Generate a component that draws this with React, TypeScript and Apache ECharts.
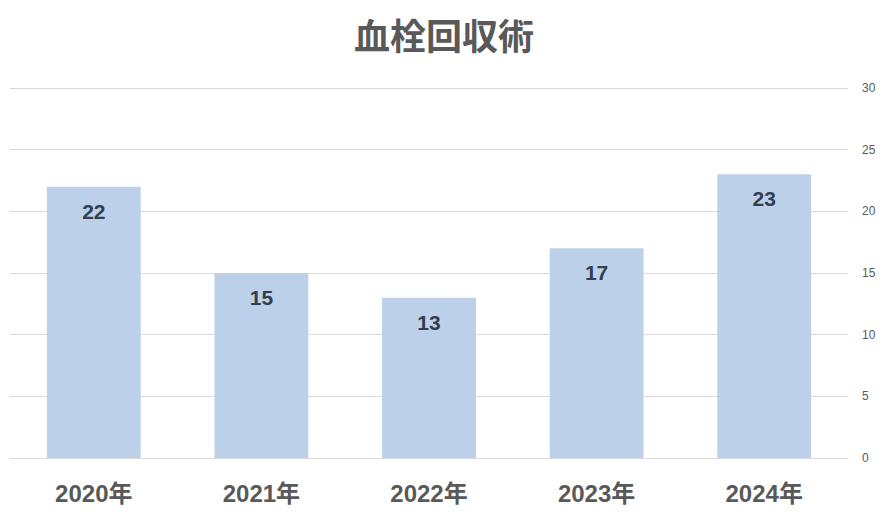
import React, { useEffect, useRef } from "react";
import * as echarts from "echarts";

const title = "血栓回収術";
const categories = ["2020年", "2021年", "2022年", "2023年", "2024年"];
const values = [22, 15, 13, 17, 23];

const FONT = "'Liberation Sans', 'Noto Sans CJK JP', sans-serif";

const App: React.FC = () => {
  const chartRef = useRef<HTMLDivElement>(null);

  useEffect(() => {
    document.body.style.margin = "0";
    const chart = echarts.init(chartRef.current, null, { renderer: "svg" });
    chart.setOption({
      animation: false,
      title: {
        text: title,
        left: "center",
        top: 14,
        textStyle: {
          fontFamily: FONT,
          fontSize: 36,
          fontWeight: "bold",
          color: "#595959",
        },
      },
      grid: {
        left: 10,
        right: 40,
        top: 88,
        bottom: 62,
        containLabel: false,
      },
      xAxis: {
        type: "category",
        data: categories,
        axisLine: { lineStyle: { color: "#d9d9d9" } },
        axisTick: { show: false },
        axisLabel: {
          margin: 23,
          fontFamily: FONT,
          fontSize: 24,
          fontWeight: "bold",
          color: "#595959",
        },
      },
      yAxis: {
        type: "value",
        position: "right",
        min: 0,
        max: 30,
        interval: 5,
        axisLine: { show: false },
        axisTick: { show: false },
        splitLine: { lineStyle: { color: "#d9d9d9" } },
        axisLabel: {
          margin: 14,
          fontFamily: FONT,
          fontSize: 12,
          color: "#595959",
        },
      },
      series: [
        {
          type: "bar",
          data: values,
          barWidth: "56%",
          itemStyle: { color: "#bdd0ea" },
          label: {
            show: true,
            position: "insideTop",
            distance: 14,
            fontFamily: FONT,
            fontSize: 21,
            fontWeight: "bold",
            color: "#333f50",
          },
        },
      ],
    });
    return () => {
      chart.dispose();
    };
  }, []);

  return <div ref={chartRef} style={{ width: 888, height: 520 }} />;
};

export default App;
